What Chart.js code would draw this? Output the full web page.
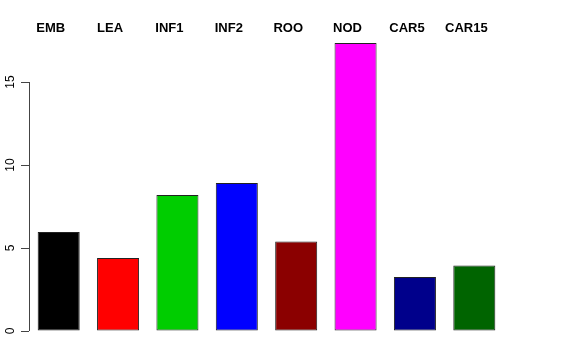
<!DOCTYPE html>
<html lang="en">
<head>
    <meta charset="UTF-8">
    <title>Bar chart</title>
    <style>
        html, body { margin: 0; padding: 0; background: #fff; }
        #wrap { width: 576px; height: 360px; position: relative; }
    </style>
</head>
<body>
    <div id="wrap"><canvas id="chart" width="576" height="360"></canvas></div>

    <script src="https://cdn.jsdelivr.net/npm/chart.js"></script>
    <script>
        const categories = ['EMB', 'LEA', 'INF1', 'INF2', 'ROO', 'NOD', 'CAR5', 'CAR15'];
        const values = [5.96, 4.4, 8.2, 8.92, 5.39, 17.35, 3.25, 3.95];
        const barColors = ['#000000', '#FF0000', '#00CD00', '#0000FF', '#8B0000', '#FF00FF', '#00008B', '#006400'];
        const yTicks = [0, 5, 10, 15];

        // R style axis line (only spans first..last tick) plus the names row above the bars
        const rStylePlugin = {
            id: 'rStyle',
            afterDraw(chart) {
                const x = chart.scales.x;
                const y = chart.scales.y;
                const ctx = chart.ctx;
                ctx.save();
                ctx.strokeStyle = '#444';
                ctx.lineWidth = 1;
                ctx.beginPath();
                ctx.moveTo(chart.chartArea.left + 0.5, y.getPixelForValue(yTicks[0]));
                ctx.lineTo(chart.chartArea.left + 0.5, y.getPixelForValue(yTicks[yTicks.length - 1]));
                ctx.stroke();

                ctx.fillStyle = '#000';
                ctx.font = 'bold 13px "Liberation Sans", Arial, sans-serif';
                ctx.textAlign = 'center';
                ctx.textBaseline = 'middle';
                categories.forEach((name, i) => {
                    ctx.fillText(name, x.getPixelForValue(i) - 8, 28);
                });
                ctx.restore();
            }
        };

        const ctx = document.getElementById('chart').getContext('2d');
        new Chart(ctx, {
            type: 'bar',
            data: {
                labels: categories,
                datasets: [{
                    data: values,
                    backgroundColor: barColors,
                    borderColor: '#222',
                    borderWidth: 1,
                    borderSkipped: false,
                    categoryPercentage: 1,
                    barPercentage: 0.708
                }]
            },
            options: {
                responsive: false,
                animation: false,
                layout: { padding: { left: 0, right: 72, top: 40.5, bottom: 29 } },
                plugins: { legend: { display: false }, tooltip: { enabled: false } },
                scales: {
                    x: { display: false },
                    y: {
                        min: 0,
                        max: 17.5,
                        afterBuildTicks: scale => { scale.ticks = yTicks.map(v => ({ value: v })); },
                        afterFit: scale => { scale.width = 29; },
                        border: { display: false },
                        grid: { drawOnChartArea: false, drawTicks: true, tickLength: 8, color: '#444' },
                        ticks: {
                            color: '#000',
                            minRotation: 90,
                            maxRotation: 90,
                            crossAlign: 'center',
                            padding: 4,
                            font: { family: '"Liberation Sans", Arial, sans-serif', size: 12 }
                        }
                    }
                }
            },
            plugins: [rStylePlugin]
        });
    </script>
</body>
</html>
